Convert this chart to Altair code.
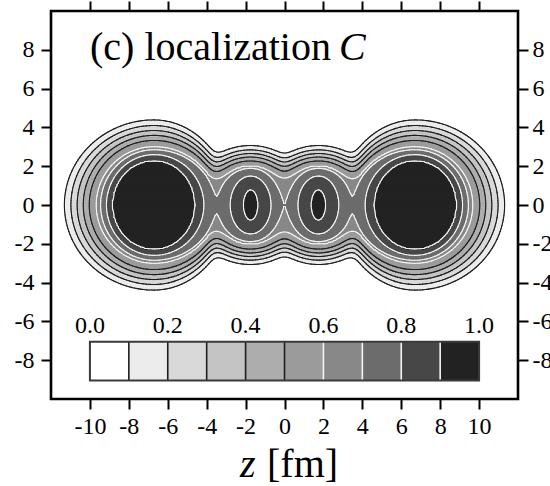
import numpy as np
import pandas as pd
import altair as alt

alt.data_transformers.disable_max_rows()

# ---------------- axes ----------------
X_DOMAIN = [-12, 12]
Y_DOMAIN = [-10, 10]
x_ticks = [-10, -8, -6, -4, -2, 0, 2, 4, 6, 8, 10]
y_ticks = [-8, -6, -4, -2, 0, 2, 4, 6, 8]

# ---------------- colour bands (from the colour bar) ----------------
band_colors = ["#ffffff", "#ececec", "#d9d9d9", "#c4c4c4", "#adadad",
               "#9b9b9b", "#888888", "#6c6c6c", "#474747", "#222222"]
line_levels = [0.1, 0.2, 0.3, 0.4, 0.5, 0.6, 0.7, 0.8, 0.9]
line_colors = ["#1e1e1e", "#1e1e1e", "#1e1e1e", "#1e1e1e", "#1e1e1e",
               "#f4f4f4", "#f4f4f4", "#f4f4f4", "#f4f4f4"]
cbar_labels = ["0.0", "0.2", "0.4", "0.6", "0.8", "1.0"]
cbar_label_x = [-10, -6, -2, 2, 6, 10]
cbar_x = [-10, -8, -6, -4, -2, 0, 2, 4, 6, 8]
cbar_y = [-9.05, -7.05]

# ---------------- contour shapes ----------------
shape_levels = [0.9, 0.8, 0.7, 0.6, 0.5, 0.4, 0.3, 0.2, 0.1, 0.0]
# large clusters: half-axes of each contour (inner side, outer side, vertical)
big_centers = [-6.7, 6.7]
big_ax_out = [2.15, 2.45, 2.75, 3.05, 3.35, 3.65, 3.95, 4.30, 4.60, 4.90]
big_ax_in = [2.10, 2.55, 3.15, 3.40, 3.48, 3.56, 3.63, 3.70, 3.76, 3.95]
big_ay = [2.30, 2.60, 2.85, 3.10, 3.35, 3.60, 3.85, 4.10, 4.35, 4.65]
# small clusters
small_centers = [-1.74, 1.74]
small_ax_out = [0.36, 1.05, 1.72, 2.15, 2.40, 2.60, 2.80, 3.00, 3.20, 3.45]
small_ax_in = [0.36, 1.05, 1.58, 2.15, 2.38, 2.55, 2.75, 2.90, 3.05, 3.30]
small_ay = [0.78, 1.50, 1.90, 2.12, 2.33, 2.50, 2.67, 2.83, 3.00, 3.22]
smooth_below = 0.66    # lower levels follow a smoothed envelope
smooth_sigma = 0.28    # fm


def component(X, Y, cx, ax_in, ax_out, ay):
    dx = X - cx
    inward = dx * np.sign(-cx) > 0
    r = np.hypot(dx, Y)
    rs = np.where(r > 0, r, 1.0)
    cs = np.where(r > 0, dx / rs, 1.0)
    sn = np.where(r > 0, Y / rs, 0.0)
    vals = [1.0] + shape_levels
    R = [np.zeros_like(X)]
    for a_i, a_o, b in zip(ax_in, ax_out, ay):
        a = np.where(inward, a_i, a_o)
        R.append(1.0 / np.sqrt((cs / a) ** 2 + (sn / b) ** 2))
    C = np.zeros_like(X)
    for k in range(len(R) - 1):
        r0, r1 = R[k], R[k + 1]
        m = (r >= r0) & (r < r1)
        C = np.where(m, vals[k] + (vals[k + 1] - vals[k]) * (r - r0) / (r1 - r0), C)
    return C


def gblur(A, s):
    rad = int(3 * s) + 1
    k = np.exp(-0.5 * (np.arange(-rad, rad + 1) / s) ** 2)
    k /= k.sum()
    A = np.apply_along_axis(lambda v: np.convolve(v, k, mode="same"), 1, A)
    A = np.apply_along_axis(lambda v: np.convolve(v, k, mode="same"), 0, A)
    return A


h = 0.08
xs = np.arange(-11.96, 11.97, h)
ys = np.arange(-6.0, 6.01, h)
XX, YY = np.meshgrid(xs, ys)
comps = [component(XX, YY, c, big_ax_in, big_ax_out, big_ay) for c in big_centers]
comps += [component(XX, YY, c, small_ax_in, small_ax_out, small_ay) for c in small_centers]
cmax = np.max(comps, axis=0)
t = 0.04
Z = cmax + t * np.log(sum(np.exp((c - cmax) / t) for c in comps)) \
    - t * np.log(1 + (len(comps) - 1) * np.exp(-cmax / t))
Z = np.where(cmax <= 0, 0.0, np.clip(Z, 0, 1))
B = gblur(np.minimum(Z, smooth_below), smooth_sigma / h)
Z = np.where(Z >= smooth_below, Z, np.minimum(B, smooth_below - 1e-4))

band = np.clip(np.floor(Z * 10 + 1e-9), 0, 9).astype(int)

# ---- filled bands (run-length rects per row) ----
fill_rows = []
ov = 0.03
for j, y in enumerate(ys):
    lv = band[j]
    ch = np.flatnonzero(np.diff(lv)) + 1
    starts = np.r_[0, ch]
    ends = np.r_[ch, len(lv)]
    for s, e in zip(starts, ends):
        if lv[s] == 0:
            continue
        fill_rows.append((round(xs[s] - h / 2, 3), round(xs[e - 1] + h / 2, 3),
                          round(y - h / 2 - ov, 3), round(y + h / 2 + ov, 3),
                          band_colors[lv[s]]))
fill_df = pd.DataFrame(fill_rows, columns=["x1", "x2", "y1", "y2", "c"])


# ---- contour lines (marching squares) ----
def segments(lev):
    a = Z[:-1, :-1]; b = Z[:-1, 1:]; c = Z[1:, 1:]; d = Z[1:, :-1]
    X0 = np.broadcast_to(xs[:-1][None, :], a.shape)
    X1 = np.broadcast_to(xs[1:][None, :], a.shape)
    Y0 = np.broadcast_to(ys[:-1][:, None], a.shape)
    Y1 = np.broadcast_to(ys[1:][:, None], a.shape)
    edges = [(a, b, X0, Y0, X1, Y0), (b, c, X1, Y0, X1, Y1),
             (c, d, X1, Y1, X0, Y1), (d, a, X0, Y1, X0, Y0)]
    PX, PY, M = [], [], []
    for u, v, ux, uy, vx, vy in edges:
        cr = (u >= lev) != (v >= lev)
        den = np.where(v - u == 0, 1, v - u)
        tt = np.where(cr, (lev - u) / den, 0)
        PX.append(ux + tt * (vx - ux)); PY.append(uy + tt * (vy - uy)); M.append(cr)
    PX = np.stack(PX, -1).reshape(-1, 4)
    PY = np.stack(PY, -1).reshape(-1, 4)
    M = np.stack(M, -1).reshape(-1, 4)
    cnt = M.sum(1)
    out = []
    i2 = np.flatnonzero(cnt == 2)
    o = np.argsort(~M[i2], axis=1, kind="stable")[:, :2]
    out.append(np.c_[PX[i2, o[:, 0]], PY[i2, o[:, 0]], PX[i2, o[:, 1]], PY[i2, o[:, 1]]])
    i4 = np.flatnonzero(cnt == 4)
    out.append(np.c_[PX[i4, 0], PY[i4, 0], PX[i4, 1], PY[i4, 1]])
    out.append(np.c_[PX[i4, 2], PY[i4, 2], PX[i4, 3], PY[i4, 3]])
    return np.vstack(out)


seg_frames = []
for lev, col in zip(line_levels, line_colors):
    s = np.round(segments(lev), 3)
    df = pd.DataFrame(s, columns=["x1", "y1", "x2", "y2"])
    df["c"] = col
    seg_frames.append(df)
seg_df = pd.concat(seg_frames, ignore_index=True)

# ---- colour bar ----
cbar_df = pd.DataFrame({"x1": cbar_x, "x2": [v + 2 for v in cbar_x],
                        "y1": cbar_y[0], "y2": cbar_y[1], "c": band_colors})
div_df = pd.DataFrame({"x": cbar_x[1:], "y1": cbar_y[0], "y2": cbar_y[1],
                       "c": line_colors})
cbar_lab_df = pd.DataFrame({"x": cbar_label_x, "y": -6.25, "t": cbar_labels})

sx = alt.Scale(domain=X_DOMAIN, nice=False, zero=False)
sy = alt.Scale(domain=Y_DOMAIN, nice=False, zero=False)
FONT = "Liberation Serif"
LBL = "toString(datum.value)"

ax_bottom = alt.Axis(orient="bottom", values=x_ticks, title=None, labelPadding=5, labelExpr=LBL)
ax_left = alt.Axis(orient="left", values=y_ticks, title=None, labelPadding=7, labelExpr=LBL)
ax_top = alt.Axis(orient="top", values=x_ticks, title=None, labels=False)
ax_right = alt.Axis(orient="right", values=y_ticks, title=None, labelPadding=4, labelExpr=LBL)

fill = alt.Chart(fill_df).mark_rect().encode(
    x=alt.X("x1:Q", scale=sx, axis=ax_bottom), x2="x2:Q",
    y=alt.Y("y1:Q", scale=sy, axis=ax_left), y2="y2:Q",
    color=alt.Color("c:N", scale=None))

lines = alt.Chart(seg_df).mark_rule(strokeWidth=1.1, strokeCap="round").encode(
    x=alt.X("x1:Q", scale=sx, axis=ax_top), x2="x2:Q",
    y=alt.Y("y1:Q", scale=sy, axis=ax_right), y2="y2:Q",
    color=alt.Color("c:N", scale=None))

cbar = alt.Chart(cbar_df).mark_rect().encode(
    x=alt.X("x1:Q", scale=sx, axis=None), x2="x2:Q",
    y=alt.Y("y1:Q", scale=sy, axis=None), y2="y2:Q",
    color=alt.Color("c:N", scale=None))

dividers = alt.Chart(div_df).mark_rule(strokeWidth=1.6).encode(
    x=alt.X("x:Q", scale=sx, axis=None),
    y=alt.Y("y1:Q", scale=sy, axis=None), y2="y2:Q",
    color=alt.Color("c:N", scale=None))

cbar_frame = alt.Chart(pd.DataFrame({"x1": [cbar_x[0]], "x2": [cbar_x[-1] + 2],
                                     "y1": [cbar_y[0]], "y2": [cbar_y[1]]})).mark_rect(
    filled=False, stroke="#3a3a3a", strokeWidth=2).encode(
    x=alt.X("x1:Q", scale=sx, axis=None), x2="x2:Q",
    y=alt.Y("y1:Q", scale=sy, axis=None), y2="y2:Q")

cbar_text = alt.Chart(cbar_lab_df).mark_text(
    font=FONT, fontSize=24, color="black", baseline="middle").encode(
    x=alt.X("x:Q", scale=sx, axis=None),
    y=alt.Y("y:Q", scale=sy, axis=None), text="t:N")


def label(txt, px, py, size, style="normal"):
    return alt.Chart(pd.DataFrame({"t": [txt]})).mark_text(
        font=FONT, fontSize=size, fontStyle=style, color="black",
        align="left", baseline="alphabetic").encode(
        x=alt.value(px), y=alt.value(py), text="t:N")


title1 = label("(c) localization", 39, 49, 40)
title2 = label("C", 288, 49, 40, "italic")
xt1 = label("z", 189, 466, 40, "italic")
xt2 = label("[fm]", 216, 466, 40)

chart = alt.layer(
    fill, lines, cbar, dividers, cbar_frame, cbar_text, title1, title2, xt1, xt2
).resolve_axis(x="independent", y="independent").properties(
    width=467, height=388,
    background="white",
    autosize=alt.AutoSizeParams(type="none"),
    padding={"left": 51, "top": 11, "right": 32, "bottom": 87},
).configure_view(stroke="black", strokeWidth=2.6).configure_axis(
    grid=False, domain=False, tickColor="black", tickWidth=2, tickSize=10,
    labelFont=FONT, labelFontSize=24, labelColor="black",
)

chart.save("out.html", embed_options={"renderer": "svg", "actions": False})
